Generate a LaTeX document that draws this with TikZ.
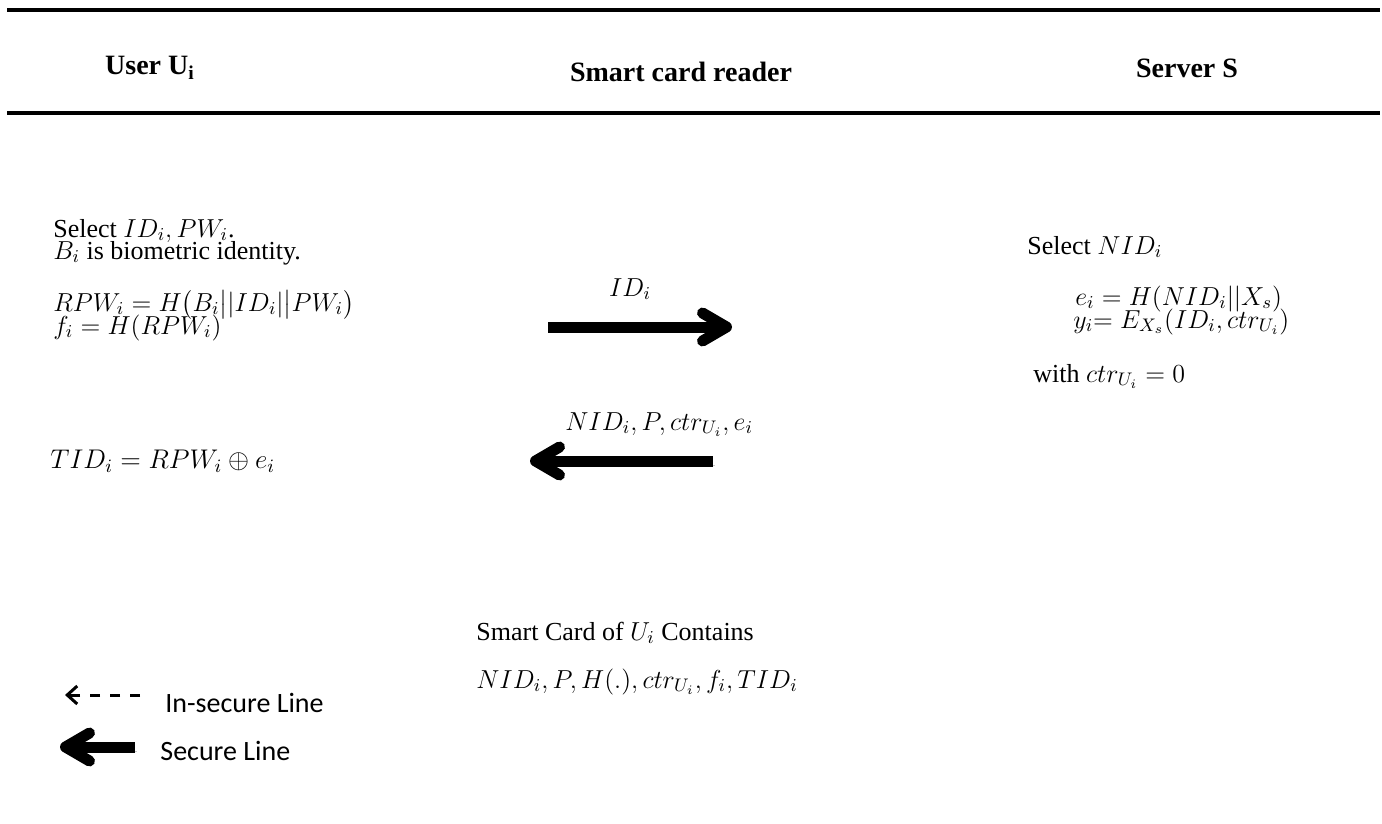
\RequirePackage{fix-cm}
\documentclass[tikz,border=0pt]{standalone}
\usepackage{amsmath}
\usepackage{fontspec}
\setmainfont{Liberation Serif}
\newfontfamily\legendfont{Carlito}
\usetikzlibrary{arrows.meta, positioning}

\begin{document}
\begin{tikzpicture}[
    x=0.5pt, y=-0.5pt,
    txt/.style={anchor=base west, inner sep=0pt, font=\fontsize{13}{15}\selectfont},
    party/.style={anchor=base, inner sep=0pt, font=\fontsize{14}{16}\selectfont\bfseries},
    legend/.style={anchor=base west, inner sep=0pt, font=\fontsize{14}{16}\selectfont\legendfont},
    secure/.style={line width=5.5pt, -{Straight Barb[length=12pt, width=14pt, line cap=round, line join=round]},
        preaction={draw=black!22, transform canvas={shift={(2,4)}}}},
    insecure/.style={line width=1.5pt, dash pattern=on 5pt off 5pt, -{Straight Barb[length=5pt, width=9pt]}},
    rule/.style={line width=1.8pt}
]
\useasboundingbox (0,0) rectangle (1382,824);

% Header
\coordinate (rl1) at (7,10);
\coordinate (rr1) at (1380,10);
\coordinate (rl2) at (7,113);
\coordinate (rr2) at (1380,113);
\draw[rule] (rl1) -- (rr1);
\draw[rule] (rl2) -- (rr2);
\node[party] (user) at (150,75) {User U\textsubscript{i}};
\node[party] (reader) at (681,82) {Smart card reader};
\node[party] (server) at (1187,78) {Server S};

% User side
\node[txt] (sel) at (53,237) {Select $ID_i, PW_i$.};
\node[txt] (bio) at (53,259) {$B_i$ is biometric identity.};
\node[txt] (rpw) at (53,311) {$RPW_i = H\big(B_i\big||ID_i|\big|PW_i\big)$};
\node[txt] (fi) at (53,334) {$f_i = H(RPW_i)$};
\node[txt, font=\fontsize{13.5}{15}\selectfont] (tid) at (50,468) {$TID_i = RPW_i \oplus e_i$};

% Messages
\node[txt, anchor=base] (idmsg) at (630,296) {$ID_i$};
\coordinate (idfrom) at (548,327);
\coordinate (idto) at (732,327);
\node[txt] (nidmsg) at (565,430) {$NID_i, P, ctr_{U_i}, e_i$};
\coordinate (nidfrom) at (713,461);
\coordinate (nidto) at (530,461);
\draw[secure] (idfrom) -- (idto);
\draw[secure] (nidfrom) -- (nidto);

% Server side
\node[txt] (selnid) at (1027,254) {Select $NID_i$};
\node[txt] (ei) at (1075,305) {$e_i = H(NID_i||X_s)$};
\node[txt] (yi) at (1073,328) {$y_i{=}\;E_{X_s}(ID_i, ctr_{U_i})$};
\node[txt] (ctr) at (1033,382) {with $ctr_{U_i} = 0$};

% Smart card
\node[txt] (cardhead) at (476,640) {Smart Card of $U_i$ Contains};
\node[txt] (cardlist) at (476,688) {$NID_i, P, H(.), ctr_{U_i}, f_i, TID_i$};

% Legend
\coordinate (insecfrom) at (140,695);
\coordinate (insecto) at (65,695);
\coordinate (secfrom) at (135,747);
\coordinate (secto) at (60,747);
\draw[insecure] (insecfrom) -- (insecto);
\draw[secure] (secfrom) -- (secto);
\node[legend] (leginsec) at (165,712) {In-secure Line};
\node[legend] (legsec) at (160,760) {Secure Line};
\end{tikzpicture}
\end{document}
